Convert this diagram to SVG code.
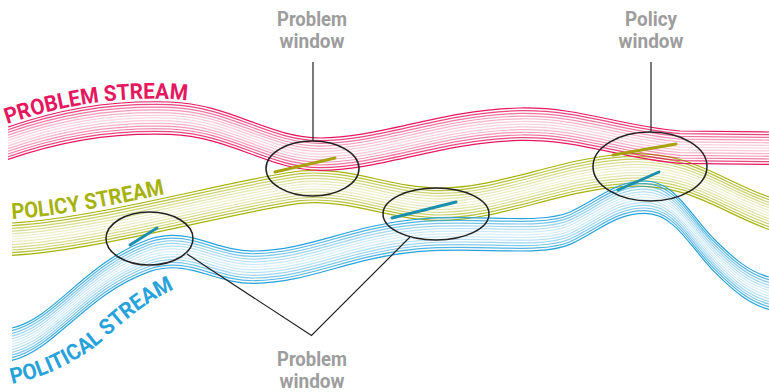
<svg xmlns="http://www.w3.org/2000/svg" xmlns:xlink="http://www.w3.org/1999/xlink" width="769" height="392" viewBox="0 0 769 392">
  <style>
    .band use { fill: none; stroke-width: 1.2; }
    #problem-stream use { stroke: #e5175f; }
    #policy-stream use { stroke: #a6b20c; }
    #political-stream use { stroke: #27a2da; }
    .o0 { stroke-opacity: 1; }
    .o1 { stroke-opacity: 0.8; }
    .o2 { stroke-opacity: 0.6; }
    .o3 { stroke-opacity: 0.45; }
    .o4 { stroke-opacity: 0.33; }
    .o5 { stroke-opacity: 0.24; }
    .o6 { stroke-opacity: 0.18; }
    .stream-label { font-family: Roboto, "Liberation Sans", sans-serif; font-weight: bold; font-size: 22px; }
    .window-label { font-family: Roboto, "Liberation Sans", sans-serif; font-weight: bold; font-size: 19.5px; fill: #9d9d9d; text-anchor: middle; }
    .window { fill: none; stroke: #222; stroke-width: 1.5; }
    .link { fill: none; stroke: #222; stroke-width: 1.2; }
    .couple-olive { stroke: #a9a20e; stroke-width: 3; stroke-linecap: round; }
    .couple-teal { stroke: #1b8fae; stroke-width: 3; stroke-linecap: round; }
  </style>
  <defs>
    <!-- top edge of each stream; the band is built from vertically offset copies -->
    <path id="problem-edge" d="M8,127 C55,111 105,100 170,102 C230,104 270,138 320,138 C380,138 440,110 520,108 C580,107 620,126 680,131 L769,132"/>
    <path id="policy-edge" d="M12,223 C100,218 230,180 300,171 C350,166 390,188 440,188 C500,188 560,158 625,154 C690,150 720,180 769,197"/>
    <path id="political-edge" d="M12,328 C55,318 85,262 150,239 C190,226 215,252 255,251 C310,250 350,225 420,219 C480,214 540,225 570,212 C600,198 615,181 645,181 C675,181 690,215 715,240 C735,260 750,272 769,277"/>
    <!-- baselines for the curved stream titles -->
    <path id="problem-baseline" d="M7,124 C55,108 105,97 170,99 C230,101 270,135 320,135"/>
    <path id="policy-baseline" d="M12,219 C100,214 230,176 300,167"/>
    <path id="political-baseline" d="M12,384 C50,376 85,358 110,334 C135,312 155,296 185,285"/>
  </defs>

  <!-- streams -->
  <g id="policy-stream" class="band">
    <use xlink:href="#policy-edge" y="0" class="o0"/>
    <use xlink:href="#policy-edge" y="2.7" class="o1"/>
    <use xlink:href="#policy-edge" y="5.4" class="o2"/>
    <use xlink:href="#policy-edge" y="8.1" class="o3"/>
    <use xlink:href="#policy-edge" y="10.8" class="o4"/>
    <use xlink:href="#policy-edge" y="13.5" class="o5"/>
    <use xlink:href="#policy-edge" y="16.2" class="o6"/>
    <use xlink:href="#policy-edge" y="18.9" class="o5"/>
    <use xlink:href="#policy-edge" y="21.6" class="o4"/>
    <use xlink:href="#policy-edge" y="24.3" class="o3"/>
    <use xlink:href="#policy-edge" y="27" class="o2"/>
    <use xlink:href="#policy-edge" y="29.7" class="o1"/>
    <use xlink:href="#policy-edge" y="32.4" class="o0"/>
  </g>
  <g id="political-stream" class="band">
    <use xlink:href="#political-edge" y="0" class="o0"/>
    <use xlink:href="#political-edge" y="2.7" class="o1"/>
    <use xlink:href="#political-edge" y="5.4" class="o2"/>
    <use xlink:href="#political-edge" y="8.1" class="o3"/>
    <use xlink:href="#political-edge" y="10.8" class="o4"/>
    <use xlink:href="#political-edge" y="13.5" class="o5"/>
    <use xlink:href="#political-edge" y="16.2" class="o6"/>
    <use xlink:href="#political-edge" y="18.9" class="o5"/>
    <use xlink:href="#political-edge" y="21.6" class="o4"/>
    <use xlink:href="#political-edge" y="24.3" class="o3"/>
    <use xlink:href="#political-edge" y="27" class="o2"/>
    <use xlink:href="#political-edge" y="29.7" class="o1"/>
    <use xlink:href="#political-edge" y="32.4" class="o0"/>
  </g>
  <g id="problem-stream" class="band">
    <use xlink:href="#problem-edge" y="0" class="o0"/>
    <use xlink:href="#problem-edge" y="2.7" class="o1"/>
    <use xlink:href="#problem-edge" y="5.4" class="o2"/>
    <use xlink:href="#problem-edge" y="8.1" class="o3"/>
    <use xlink:href="#problem-edge" y="10.8" class="o4"/>
    <use xlink:href="#problem-edge" y="13.5" class="o5"/>
    <use xlink:href="#problem-edge" y="16.2" class="o6"/>
    <use xlink:href="#problem-edge" y="18.9" class="o5"/>
    <use xlink:href="#problem-edge" y="21.6" class="o4"/>
    <use xlink:href="#problem-edge" y="24.3" class="o3"/>
    <use xlink:href="#problem-edge" y="27" class="o2"/>
    <use xlink:href="#problem-edge" y="29.7" class="o1"/>
    <use xlink:href="#problem-edge" y="32.4" class="o0"/>
  </g>

  <!-- stream titles, narrowed to a condensed look -->
  <g id="problem-stream-label">
    <text class="stream-label" fill="#e5175f"><textPath xlink:href="#problem-baseline" textLength="183" lengthAdjust="spacingAndGlyphs">PROBLEM STREAM</textPath></text>
  </g>
  <g id="policy-stream-label">
    <text class="stream-label" fill="#a6b20c"><textPath xlink:href="#policy-baseline" textLength="155" lengthAdjust="spacingAndGlyphs">POLICY STREAM</textPath></text>
  </g>
  <g id="political-stream-label">
    <text class="stream-label" fill="#27a2da"><textPath xlink:href="#political-baseline" textLength="190" lengthAdjust="spacingAndGlyphs">POLITICAL STREAM</textPath></text>
  </g>

  <!-- coupling marks inside the windows -->
  <g id="couplings">
    <line class="couple-teal" x1="130" y1="245" x2="157" y2="228"/>
    <line class="couple-olive" x1="275" y1="172" x2="335" y2="158"/>
    <line class="couple-teal" x1="392" y1="218" x2="456" y2="202"/>
    <line class="couple-olive" x1="613" y1="155" x2="676" y2="144"/>
    <line class="couple-teal" x1="618" y1="190" x2="659" y2="172"/>
  </g>

  <!-- windows -->
  <g id="window-left"><ellipse class="window" cx="149.5" cy="238.5" rx="43.5" ry="26.5"/></g>
  <g id="window-problem-top"><ellipse class="window" cx="312.5" cy="168.5" rx="46.5" ry="27.5"/></g>
  <g id="window-middle"><ellipse class="window" cx="436" cy="214" rx="53" ry="26"/></g>
  <g id="window-policy"><ellipse class="window" cx="650" cy="166.5" rx="57" ry="34.5"/></g>

  <!-- connectors -->
  <g id="connectors">
    <line class="link" x1="313" y1="62" x2="313" y2="141"/>
    <line class="link" x1="651" y1="62" x2="651" y2="132"/>
    <polyline class="link" points="187,254 311.5,335.5 410,237"/>
  </g>

  <!-- callout labels -->
  <g id="label-problem-top">
    <text class="window-label" x="312" y="26" textLength="70" lengthAdjust="spacingAndGlyphs">Problem</text>
    <text class="window-label" x="312" y="47.5" textLength="65" lengthAdjust="spacingAndGlyphs">window</text>
  </g>
  <g id="label-policy">
    <text class="window-label" x="651" y="26" textLength="52" lengthAdjust="spacingAndGlyphs">Policy</text>
    <text class="window-label" x="651" y="47.5" textLength="65" lengthAdjust="spacingAndGlyphs">window</text>
  </g>
  <g id="label-problem-bottom">
    <text class="window-label" x="312" y="366" textLength="70" lengthAdjust="spacingAndGlyphs">Problem</text>
    <text class="window-label" x="312" y="387.5" textLength="65" lengthAdjust="spacingAndGlyphs">window</text>
  </g>
</svg>
